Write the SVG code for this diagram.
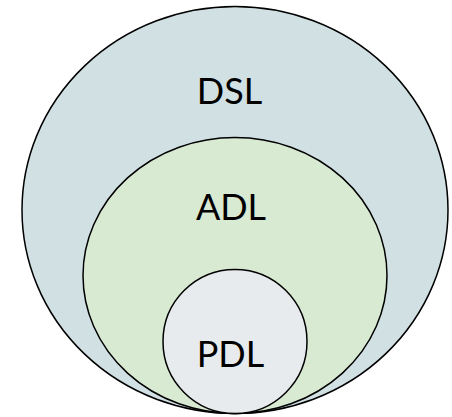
<svg xmlns="http://www.w3.org/2000/svg" width="452" height="417" viewBox="0 0 452 417">
  <style>
    .ring { stroke: #000; stroke-width: 1.5; }
    .label { font-family: Lato, "Liberation Sans", sans-serif; font-size: 36px; fill: #000; text-anchor: middle; }
  </style>
  <rect width="452" height="417" fill="#fff"/>
  <g id="dsl">
    <ellipse class="ring" cx="235" cy="210" rx="213" ry="203.5" fill="#d0e0e3"/>
    <text class="label" x="229.5" y="104.3">DSL</text>
  </g>
  <g id="adl">
    <ellipse class="ring" cx="235" cy="275.5" rx="152" ry="138" fill="#d9ead3"/>
    <text class="label" x="231" y="220">ADL</text>
  </g>
  <g id="pdl">
    <circle class="ring" cx="235" cy="341.5" r="72" fill="#e8ebed"/>
    <text class="label" x="230.5" y="366.7">PDL</text>
  </g>
  <g id="connectors"/>
</svg>
